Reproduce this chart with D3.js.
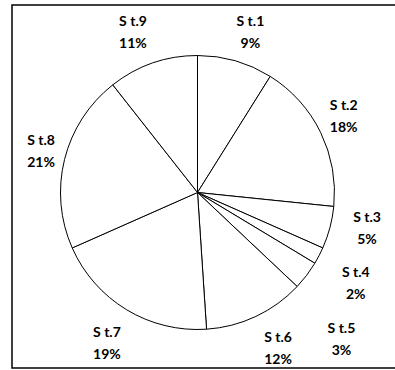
<!DOCTYPE html>
<html>
<head>
<meta charset="utf-8">
<script src="https://cdn.jsdelivr.net/npm/d3@7"></script>
<style>
  html, body { margin: 0; padding: 0; background: #fff; }
  svg { display: block; }
</style>
</head>
<body>
<svg id="chart" width="395" height="370"></svg>
<script>
// ---- data ----
const categories = ["S t.1", "S t.2", "S t.3", "S t.4", "S t.5", "S t.6", "S t.7", "S t.8", "S t.9"];
const values = [8.9, 17.7, 5.0, 2.0, 3.4, 11.9, 19.4, 21.0, 10.6];

// ---- layout (label placement nudges: angle delta in degrees, label radius) ----
const labelAngleNudge = [2.2, -1.6, -3.3, 2.1, 8.2, -2.2, 0, 1.1, -2.8];
const labelRadius = [169, 165, 173, 182, 205, 175, 175, 162, 173];

const W = 395, H = 370;
const cx = 197.5, cy = 192.5, R = 137;

const svg = d3.select("#chart");

// outer border
svg.append("rect")
  .attr("x", 12).attr("y", 5)
  .attr("width", 400).attr("height", 363)
  .attr("fill", "none")
  .attr("stroke", "#000")
  .attr("stroke-width", 1.5);

const total = d3.sum(values);
const pie = d3.pie().sort(null).value(d => d)(values);
const arc = d3.arc().innerRadius(0).outerRadius(R);

const g = svg.append("g").attr("transform", `translate(${cx},${cy})`);

g.selectAll("path.slice")
  .data(pie)
  .join("path")
  .attr("class", "slice")
  .attr("d", arc)
  .attr("fill", "#fff")
  .attr("stroke", "#000")
  .attr("stroke-width", 1);

const labels = g.selectAll("g.lab")
  .data(pie)
  .join("g")
  .attr("class", "lab")
  .attr("transform", (d, i) => {
    const a = (d.startAngle + d.endAngle) / 2 + labelAngleNudge[i] * Math.PI / 180;
    const r = labelRadius[i];
    return `translate(${r * Math.sin(a)},${-r * Math.cos(a)})`;
  });

labels.append("text")
  .attr("y", -11)
  .attr("text-anchor", "middle")
  .attr("dominant-baseline", "central")
  .attr("font-family", "Lato, 'Open Sans', sans-serif")
  .attr("font-weight", "bold")
  .attr("font-size", 14)
  .attr("fill", "#000")
  .text((d, i) => categories[i]);

labels.append("text")
  .attr("y", 11)
  .attr("text-anchor", "middle")
  .attr("dominant-baseline", "central")
  .attr("font-family", "Lato, 'Open Sans', sans-serif")
  .attr("font-weight", "bold")
  .attr("font-size", 14)
  .attr("fill", "#000")
  .text(d => Math.round(d.value / total * 100) + "%");
</script>
</body>
</html>
